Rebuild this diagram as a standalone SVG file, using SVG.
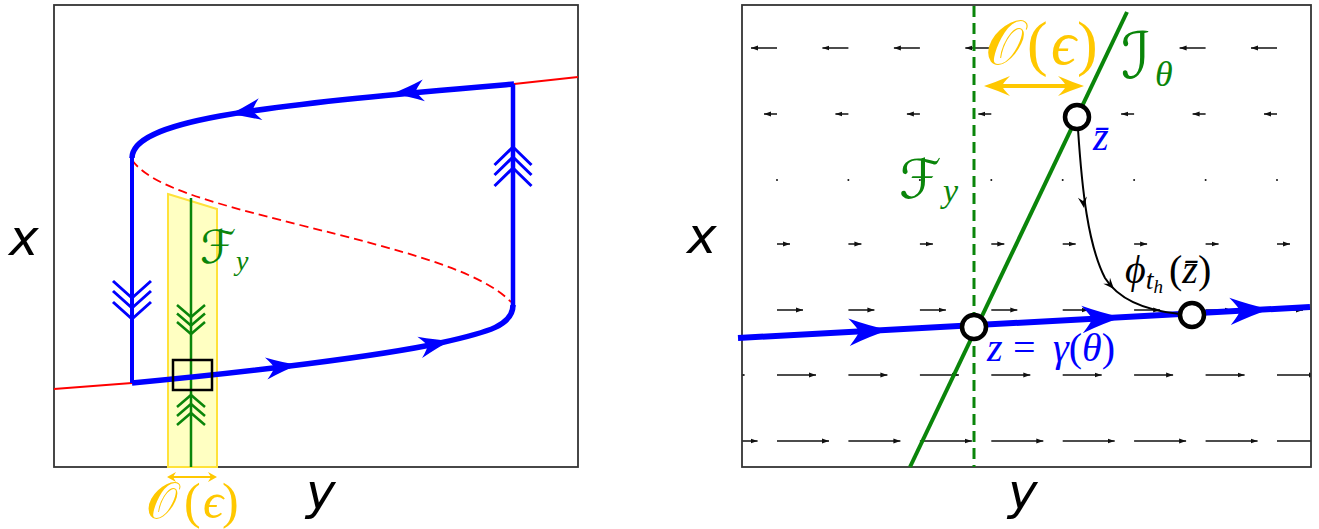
<svg xmlns="http://www.w3.org/2000/svg" width="1319" height="529" viewBox="0 0 1319 529">
<style>
.frame{fill:none;stroke:#333;stroke-width:1.8}
.blue{stroke:#0000ff;fill:none;stroke-linejoin:round}
.bfill{fill:#0000ff}
.red{stroke:#ff0000;fill:none;stroke-width:1.8}
.grn{stroke:#0a850a;fill:none}
.q{stroke:#111;stroke-width:1.5;fill:none;marker-end:url(#qh)}
.ax{font-family:'DejaVu Sans',sans-serif;font-style:oblique;font-size:50px;fill:#000}
.mi{font-family:'Liberation Serif',serif;font-style:italic}
.rm{font-family:'Liberation Serif',serif;font-style:normal}
.cal{font-family:'DejaVu Serif','DejaVu Sans',serif;font-style:normal}
.gold{fill:#ffc800}
.gtx{fill:#0a850a}
.btx{fill:#0000ff}
</style>
<defs>
<marker id="qh" markerUnits="userSpaceOnUse" markerWidth="8" markerHeight="6" refX="7" refY="3" orient="auto"><path d="M0,0.6 L7,3 L0,5.4 Z" fill="#111"/></marker>
<path id="ah" d="M0,0 Q-15,-4 -32,-11 Q-25,-3 -24,0 Q-25,3 -32,11 Q-15,4 0,0 Z"/>
<path id="bh" d="M0,0 L-11,-4.5 L-7,0 L-11,4.5 Z"/>
<path id="yh" d="M0,0 Q-12,-4 -26,-10 Q-19,-3 -18,0 Q-19,3 -26,10 Q-12,4 0,0 Z"/>
<path id="ys" d="M0,0 L-9,-5 L-6,0 L-9,5 Z"/>
<clipPath id="rclip"><rect x="742" y="5" width="569" height="462"/></clipPath>
</defs>

<g id="left-panel">
  <rect class="frame" x="54" y="5" width="524" height="462"/>
  <g id="band">
    <polygon points="168,194 217,209 217,467 168,467" fill="#ffffc2" stroke="#ffe23a" stroke-width="2"/>
  </g>
  <g id="critical-manifold">
    <path class="red" d="M54,389 L132,383"/>
    <path class="red" d="M514,84 L578,77"/>
    <path class="red" stroke-width="2.2" stroke-dasharray="9 5" d="M132,160 C150,185 200,200 300,225 C400,250 480,270 511,302"/>
  </g>
  <g id="fiber-left">
    <path class="grn" stroke-width="2.5" d="M191,198 V467"/>
    <path class="grn" stroke-width="2.5" d="M177,305 L191,317 L205,305 M177,313.5 L191,325.5 L205,313.5 M177,322 L191,334 L205,322"/>
    <path class="grn" stroke-width="2.5" d="M177,407 L191,395 L205,407 M177,416 L191,404 L205,416 M177,425 L191,413 L205,425"/>
  </g>
  <g id="orbit-left">
    <path class="blue" stroke-width="5.5" d="M514,84 C420,92 300,102 220,116 C160,127 132,140 132,158"/>
    <path class="blue" stroke-width="5.5" d="M132,383 C250,372 380,356 440,343 C490,332 513,325 513,305"/>
    <path class="blue" stroke-width="4" d="M132,158 V383"/>
    <path class="blue" stroke-width="4.5" d="M513,307 V84"/>
    <path class="blue" stroke-width="3" d="M113,281 L132,298 L151,281 M113,291 L132,308 L151,291 M113,302 L132,319 L151,302"/>
    <path class="blue" stroke-width="3" d="M494.5,165 L513,147 L531.5,165 M494.5,175 L513,157 L531.5,175 M494.5,186 L513,168 L531.5,186"/>
    <use href="#ah" class="bfill" transform="translate(392,93.5) rotate(174.3)"/>
    <use href="#ah" class="bfill" transform="translate(229,114.5) rotate(170.4)"/>
    <use href="#ah" class="bfill" transform="translate(298,365) rotate(-6.3)"/>
    <use href="#ah" class="bfill" transform="translate(451,340.5) rotate(-12.4)"/>
  </g>
  <g id="box">
    <rect x="173" y="360" width="39" height="30" fill="none" stroke="#000" stroke-width="2.5"/>
  </g>
  <g id="eps-left">
    <path d="M173,477 H211" stroke="#ffc800" stroke-width="2" fill="none"/>
    <use href="#ys" class="gold" transform="translate(217,477)"/>
    <use href="#ys" class="gold" transform="translate(167,477) rotate(180)"/>
    <text y="518" font-size="50" class="gold"><tspan x="146" class="cal">𝒪</tspan><tspan x="184" class="rm">(</tspan><tspan x="203" class="mi">ϵ</tspan><tspan x="222" class="rm">)</tspan></text>
  </g>
  <text x="200" y="263" font-size="46" class="cal gtx">ℱ</text>
  <text x="236" y="270" font-size="28" class="mi gtx">y</text>
  <text class="ax" x="9" y="255">x</text>
  <text class="ax" x="306" y="509">y</text>
</g>

<g id="right-panel">
  <g id="field" clip-path="url(#rclip)">
    <line class="q" x1="777" y1="48" x2="751" y2="48"/><line class="q" x1="848.4" y1="48" x2="822.4" y2="48"/><line class="q" x1="919.9" y1="48" x2="893.9" y2="48"/><line class="q" x1="991.3" y1="48" x2="965.3" y2="48"/><line class="q" x1="1205.6" y1="48" x2="1179.6" y2="48"/><line class="q" x1="1277" y1="48" x2="1251" y2="48"/>
    <line class="q" x1="777" y1="114" x2="764" y2="114"/><line class="q" x1="848.4" y1="114" x2="835.4" y2="114"/><line class="q" x1="919.9" y1="114" x2="906.9" y2="114"/><line class="q" x1="991.3" y1="114" x2="978.3" y2="114"/><line class="q" x1="1134.1" y1="114" x2="1121.1" y2="114"/><line class="q" x1="1205.6" y1="114" x2="1192.6" y2="114"/><line class="q" x1="1277" y1="114" x2="1264" y2="114"/>
    <g fill="#111">
      <circle cx="777" cy="180" r="1"/><circle cx="848.4" cy="180" r="1"/><circle cx="919.9" cy="180" r="1"/><circle cx="991.3" cy="180" r="1"/><circle cx="1062.7" cy="180" r="1"/><circle cx="1134.1" cy="180" r="1"/><circle cx="1205.6" cy="180" r="1"/><circle cx="1277" cy="180" r="1"/>
    </g>
    <line class="q" x1="777" y1="244" x2="790" y2="244"/><line class="q" x1="848.4" y1="244" x2="861.4" y2="244"/><line class="q" x1="919.9" y1="244" x2="932.9" y2="244"/><line class="q" x1="991.3" y1="244" x2="1004.3" y2="244"/><line class="q" x1="1062.7" y1="244" x2="1075.7" y2="244"/><line class="q" x1="1134.1" y1="244" x2="1147.1" y2="244"/><line class="q" x1="1205.6" y1="244" x2="1218.6" y2="244"/><line class="q" x1="1277" y1="244" x2="1290" y2="244"/>
    <line class="q" x1="777" y1="310" x2="803" y2="310"/><line class="q" x1="848.4" y1="310" x2="874.4" y2="310"/><line class="q" x1="919.9" y1="310" x2="945.9" y2="310"/><line class="q" x1="991.3" y1="310" x2="1017.3" y2="310"/><line class="q" x1="1062.7" y1="310" x2="1088.7" y2="310"/><line class="q" x1="1134.1" y1="310" x2="1160.1" y2="310"/><line class="q" x1="1205.6" y1="310" x2="1231.6" y2="310"/><line class="q" x1="1277" y1="310" x2="1303" y2="310"/>
    <line class="q" x1="705.6" y1="375" x2="744.6" y2="375"/><line class="q" x1="777" y1="375" x2="816" y2="375"/><line class="q" x1="848.4" y1="375" x2="887.4" y2="375"/><line class="q" x1="919.9" y1="375" x2="958.9" y2="375"/><line class="q" x1="991.3" y1="375" x2="1030.3" y2="375"/><line class="q" x1="1062.7" y1="375" x2="1101.7" y2="375"/><line class="q" x1="1134.1" y1="375" x2="1173.1" y2="375"/><line class="q" x1="1205.6" y1="375" x2="1244.6" y2="375"/><line class="q" x1="1277" y1="375" x2="1316" y2="375"/>
    <line class="q" x1="705.6" y1="441" x2="757.6" y2="441"/><line class="q" x1="777" y1="441" x2="829" y2="441"/><line class="q" x1="848.4" y1="441" x2="900.4" y2="441"/><line class="q" x1="919.9" y1="441" x2="971.9" y2="441"/><line class="q" x1="991.3" y1="441" x2="1043.3" y2="441"/><line class="q" x1="1062.7" y1="441" x2="1114.7" y2="441"/><line class="q" x1="1134.1" y1="441" x2="1186.1" y2="441"/><line class="q" x1="1205.6" y1="441" x2="1257.6" y2="441"/><line class="q" x1="1277" y1="441" x2="1329" y2="441"/>
  </g>
  <rect class="frame" x="742" y="5" width="569" height="462"/>
  <g id="fiber-right">
    <path class="grn" stroke-width="3" stroke-dasharray="11 6" d="M974,6 V467"/>
  </g>
  <g id="isochron">
    <path class="grn" stroke-width="4" d="M1127,12 L910,467"/>
  </g>
  <g id="orbit-right">
    <path class="blue" stroke-width="6" d="M738,338 L1310,307"/>
    <use href="#ah" class="bfill" transform="translate(889,330) rotate(-3.1) scale(1.25)"/>
    <use href="#ah" class="bfill" transform="translate(1122,317.3) rotate(-3.1) scale(1.25)"/>
    <use href="#ah" class="bfill" transform="translate(1270,309.2) rotate(-3.1) scale(1.25)"/>
  </g>
  <g id="flow">
    <path d="M1078,129 C1082,190 1088,245 1105,278 C1120,302 1150,311 1180,314" fill="none" stroke="#000" stroke-width="2"/>
    <use href="#bh" transform="translate(1084,208) rotate(81.7)"/>
    <use href="#bh" transform="translate(1114,289) rotate(48)"/>
  </g>
  <g id="eps-right">
    <path d="M992,86 H1076" stroke="#ffc800" stroke-width="4" fill="none"/>
    <use href="#yh" class="gold" transform="translate(1084,86)"/>
    <use href="#yh" class="gold" transform="translate(984,86) rotate(180)"/>
    <text y="64" font-size="62" class="gold"><tspan x="985" class="cal">𝒪</tspan><tspan x="1027" class="rm">(</tspan><tspan x="1051" class="mi">ϵ</tspan><tspan x="1077" class="rm">)</tspan></text>
  </g>
  <g id="pt-zbar">
    <circle cx="1077" cy="117" r="12" fill="#fff" stroke="#000" stroke-width="4.5"/>
    <text x="1093" y="150" font-size="40" class="mi btx">z̄</text>
  </g>
  <g id="pt-z">
    <circle cx="974" cy="327" r="12" fill="#fff" stroke="#000" stroke-width="4.5"/>
    <text y="361" font-size="40" class="btx"><tspan x="987" class="mi">z</tspan><tspan x="1013" class="rm">=</tspan><tspan x="1053" class="mi">γ</tspan><tspan class="rm">(</tspan><tspan class="mi">θ</tspan><tspan class="rm">)</tspan></text>
  </g>
  <g id="pt-phi">
    <circle cx="1192" cy="315" r="12" fill="#fff" stroke="#000" stroke-width="4.5"/>
    <text y="283" font-size="40" fill="#000"><tspan x="1125" class="mi">ϕ</tspan><tspan class="mi" font-size="28" dy="6">t</tspan><tspan class="mi" font-size="19" dy="4">h</tspan><tspan class="rm" dx="6" dy="-10">(</tspan><tspan class="mi">z̄</tspan><tspan class="rm">)</tspan></text>
  </g>
  <text x="1121" y="78" font-size="64" class="cal gtx">ℐ</text>
  <text x="1155" y="86" font-size="36" class="mi gtx">θ</text>
  <text x="899" y="198" font-size="54" class="cal gtx">ℱ</text>
  <text x="943" y="202" font-size="34" class="mi gtx">y</text>
  <text class="ax" x="687" y="253">x</text>
  <text class="ax" x="1008" y="509">y</text>
</g>
</svg>
